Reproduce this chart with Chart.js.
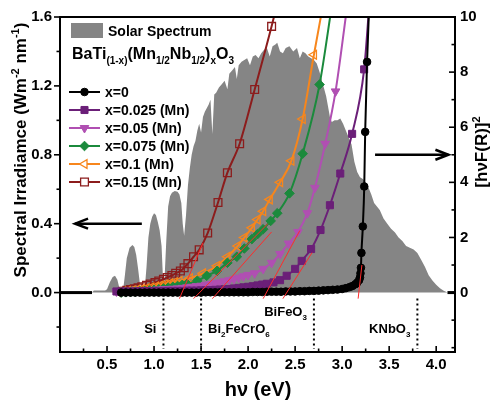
<!DOCTYPE html>
<html>
<head>
<meta charset="utf-8">
<script src="https://cdn.jsdelivr.net/npm/chart.js@4.4.1/dist/chart.umd.min.js"></script>
<style>
  html, body { margin: 0; padding: 0; background: #ffffff; }
  #wrap { width: 492px; height: 402px; }
</style>
</head>
<body>
<div id="wrap"><canvas id="chart" width="492" height="402"></canvas></div>
<script>
const FONT = "'Liberation Sans', Arial, Helvetica, sans-serif";

// ---- Axis ticks ----
const xTickValues = [0.5, 1.0, 1.5, 2.0, 2.5, 3.0, 3.5, 4.0];
const xMinorTicks = [0.25, 0.75, 1.25, 1.75, 2.25, 2.75, 3.25, 3.75];
const leftTickValues = [0.0, 0.4, 0.8, 1.2, 1.6];
const leftMinorTicks = [-0.2, 0.2, 0.6, 1.0, 1.4];
const rightTickValues = [0, 2, 4, 6, 8, 10];
const rightMinorTicks = [-2, -1, 1, 3, 5, 7, 9];

// ---- AM1.5 solar spectrum on the photon-energy axis (W m^-2 nm^-1) ----
const spectrumEnergy = [
  0.00, 0.34, 0.36, 0.48, 0.50, 0.53, 0.56, 0.585, 0.61, 0.63,
  0.645, 0.67, 0.69, 0.71, 0.74, 0.77, 0.79, 0.81, 0.83, 0.85,
  0.87, 0.90, 0.92, 0.94, 0.96, 0.98, 1.00, 1.02, 1.04, 1.06,
  1.08, 1.095, 1.11, 1.13, 1.15, 1.17, 1.19, 1.22, 1.25, 1.27,
  1.29, 1.305, 1.32, 1.34, 1.36, 1.38, 1.40, 1.42, 1.44, 1.46,
  1.48, 1.50, 1.52, 1.54, 1.56, 1.58, 1.60, 1.62, 1.64, 1.66,
  1.69, 1.72, 1.75, 1.78, 1.80, 1.83, 1.86, 1.88, 1.90, 1.93,
  1.96, 1.99, 2.02, 2.05, 2.08, 2.11, 2.14, 2.17, 2.20, 2.23,
  2.26, 2.29, 2.31, 2.34, 2.37, 2.40, 2.44, 2.48, 2.52, 2.55,
  2.58, 2.61, 2.64, 2.67, 2.70, 2.73, 2.76, 2.79, 2.81, 2.83,
  2.85, 2.87, 2.89, 2.92, 2.95, 2.98, 3.01, 3.04, 3.07, 3.10,
  3.13, 3.16, 3.19, 3.22, 3.25, 3.28, 3.31, 3.34, 3.37, 3.40,
  3.44, 3.48, 3.52, 3.56, 3.60, 3.64, 3.68, 3.72, 3.76, 3.80,
  3.84, 3.88, 3.92, 3.96, 4.00, 4.04, 4.08, 4.12, 4.20
];
const spectrumIrradiance = [
  0, 0, 0.012, 0.012, 0.02, 0.06, 0.09, 0.098, 0.075, 0.03,
  0.008, 0.01, 0.10, 0.20, 0.26, 0.276, 0.265, 0.22, 0.14, 0.05,
  0.01, 0.015, 0.15, 0.32, 0.40, 0.44, 0.46, 0.45, 0.41, 0.36,
  0.27, 0.08, 0.06, 0.30, 0.50, 0.56, 0.58, 0.59, 0.585, 0.57,
  0.52, 0.40, 0.33, 0.45, 0.62, 0.72, 0.80, 0.85, 0.88, 0.94,
  0.98, 0.93, 1.02, 1.05, 1.07, 1.09, 1.12, 0.92, 1.15, 1.16,
  1.19, 1.21, 1.23, 1.18, 1.27, 1.29, 1.31, 1.24, 1.32, 1.34,
  1.35, 1.36, 1.32, 1.37, 1.38, 1.36, 1.39, 1.41, 1.42, 1.37,
  1.43, 1.44, 1.45, 1.40, 1.39, 1.42, 1.43, 1.40, 1.42, 1.36,
  1.40, 1.39, 1.37, 1.36, 1.35, 1.33, 1.28, 1.22, 1.18, 1.14,
  1.08, 1.02, 0.99, 1.00, 1.00, 1.01, 0.98, 0.94, 0.90, 0.86,
  0.76, 0.70, 0.67, 0.66, 0.64, 0.61, 0.57, 0.52, 0.50, 0.48,
  0.43, 0.40, 0.37, 0.35, 0.32, 0.30, 0.27, 0.26, 0.25, 0.23,
  0.19, 0.15, 0.10, 0.07, 0.045, 0.025, 0.01, 0, 0
];

// ---- [hvF(R)]^2 Tauc curves ----
const energy_x0 = [
  0.65, 0.70, 0.75, 0.80, 0.85, 0.90, 0.95, 1.00, 1.05, 1.10,
  1.15, 1.20, 1.25, 1.30, 1.35, 1.40, 1.45, 1.50, 1.55, 1.60,
  1.65, 1.70, 1.75, 1.80, 1.85, 1.90, 1.95, 2.00, 2.05, 2.10,
  2.15, 2.20, 2.25, 2.30, 2.35, 2.40, 2.45, 2.50, 2.55, 2.60,
  2.65, 2.70, 2.75, 2.80, 2.85, 2.90, 2.95, 3.00, 3.04, 3.08,
  3.11, 3.14, 3.16, 3.18, 3.19, 3.195, 3.20, 3.205, 3.22, 3.235,
  3.245, 3.265, 3.29
];
const tauc_x0 = [
  0, 0, 0, 0, 0, 0, 0, 0, 0, 0,
  0, 0, 0, 0, 0, 0, 0, 0, 0.01, 0.01,
  0.01, 0.01, 0.01, 0.01, 0.01, 0.01, 0.01, 0.01, 0.02, 0.02,
  0.02, 0.03, 0.03, 0.03, 0.03, 0.04, 0.04, 0.04, 0.05, 0.05,
  0.06, 0.06, 0.07, 0.08, 0.09, 0.10, 0.11, 0.13, 0.16, 0.20,
  0.24, 0.30, 0.36, 0.45, 0.55, 0.70, 0.90, 1.44, 2.40, 3.85,
  5.83, 8.37, 10.6
];

const energy_x025 = [
  0.60, 0.65, 0.70, 0.75, 0.80, 0.85, 0.90, 0.95, 1.00, 1.05,
  1.10, 1.15, 1.20, 1.25, 1.30, 1.35, 1.40, 1.45, 1.50, 1.55,
  1.60, 1.65, 1.70, 1.75, 1.80, 1.85, 1.90, 1.95, 2.00, 2.05,
  2.10, 2.15, 2.20, 2.27, 2.34, 2.41, 2.50, 2.57, 2.67, 2.77,
  2.87, 2.98, 3.106, 3.234, 3.29
];
const tauc_x025 = [
  0.04, 0.04, 0.04, 0.04, 0.04, 0.05, 0.05, 0.05, 0.05, 0.05,
  0.05, 0.06, 0.06, 0.06, 0.06, 0.07, 0.07, 0.07, 0.08, 0.08,
  0.09, 0.10, 0.11, 0.12, 0.13, 0.15, 0.17, 0.19, 0.21, 0.23,
  0.26, 0.29, 0.32, 0.37, 0.45, 0.61, 0.86, 1.15, 1.58, 2.27,
  3.17, 4.32, 5.76, 8.10, 10.5
];

const energy_x05 = [
  0.60, 0.65, 0.70, 0.75, 0.80, 0.85, 0.90, 0.95, 1.00, 1.05,
  1.10, 1.15, 1.20, 1.25, 1.30, 1.35, 1.40, 1.45, 1.50, 1.55,
  1.60, 1.65, 1.70, 1.75, 1.80, 1.85, 1.90, 1.95, 2.00, 2.07,
  2.16, 2.25, 2.34, 2.43, 2.53, 2.63, 2.71, 2.82, 2.93, 3.05
];
const tauc_x05 = [
  0.04, 0.04, 0.05, 0.05, 0.06, 0.07, 0.08, 0.09, 0.10, 0.11,
  0.12, 0.13, 0.14, 0.15, 0.17, 0.19, 0.21, 0.23, 0.25, 0.28,
  0.31, 0.34, 0.37, 0.41, 0.45, 0.49, 0.54, 0.59, 0.64, 0.70,
  0.86, 1.08, 1.40, 1.78, 2.20, 2.88, 3.80, 5.40, 7.30, 10.3
];

const energy_x075 = [
  0.65, 0.70, 0.75, 0.80, 0.85, 0.90, 0.95, 1.00, 1.05, 1.10,
  1.15, 1.20, 1.25, 1.30, 1.35, 1.46, 1.56, 1.67, 1.78, 1.88,
  1.96, 2.04, 2.10, 2.16, 2.24, 2.31, 2.44, 2.58, 2.76, 2.89
];
const tauc_x075 = [
  0.00, 0.01, 0.02, 0.03, 0.05, 0.06, 0.08, 0.10, 0.12, 0.15,
  0.18, 0.21, 0.24, 0.28, 0.32, 0.43, 0.61, 0.79, 1.08, 1.30,
  1.60, 1.94, 2.12, 2.30, 2.60, 2.88, 3.60, 5.04, 7.55, 10.4
];

const energy_x1 = [
  0.62, 0.67, 0.72, 0.77, 0.82, 0.87, 0.92, 0.97, 1.02, 1.07,
  1.12, 1.17, 1.22, 1.27, 1.38, 1.52, 1.67, 1.78, 1.89, 1.96,
  2.04, 2.10, 2.16, 2.23, 2.34, 2.46, 2.58, 2.70, 2.80
];
const tauc_x1 = [
  0.02, 0.04, 0.06, 0.08, 0.10, 0.13, 0.16, 0.19, 0.22, 0.26,
  0.30, 0.34, 0.38, 0.42, 0.52, 0.70, 0.97, 1.30, 1.69, 2.00,
  2.35, 2.65, 2.95, 3.38, 4.00, 4.78, 6.30, 8.63, 10.5
];

const energy_x15 = [
  0.67, 0.71, 0.75, 0.79, 0.83, 0.87, 0.92, 0.96, 1.01, 1.05,
  1.10, 1.14, 1.19, 1.23, 1.28, 1.32, 1.36, 1.42, 1.48, 1.57,
  1.68, 1.78, 1.91, 2.07, 2.25, 2.31
];
const tauc_x15 = [
  0.05, 0.08, 0.11, 0.14, 0.17, 0.21, 0.26, 0.31, 0.36, 0.42,
  0.48, 0.55, 0.62, 0.70, 0.78, 0.90, 1.05, 1.30, 1.55, 2.16,
  3.27, 4.35, 5.40, 7.37, 9.66, 10.5
];

// Linear extrapolations of the absorption edges
const tangentEnergy = [[1.27, 1.52], [1.42, 2.21], [1.62, 2.25], [2.16, 2.55], [2.37, 2.68], [3.17, 3.21]];
const tangentValue  = [[-0.22, 1.8], [-0.22, 2.5], [-0.22, 2.2], [-0.22, 2.25], [-0.22, 1.45], [-0.22, 1.0]];

// Band gaps of reference absorbers
const gapEnergies = [1.1, 1.5, 2.7, 3.8];

const seriesLabels = ['x=0', 'x=0.025 (Mn)', 'x=0.05 (Mn)', 'x=0.075 (Mn)', 'x=0.1 (Mn)', 'x=0.15 (Mn)'];
const seriesEnergy = [energy_x0, energy_x025, energy_x05, energy_x075, energy_x1, energy_x15];
const seriesValues = [tauc_x0, tauc_x025, tauc_x05, tauc_x075, tauc_x1, tauc_x15];

// Styling
const seriesStyle = [
  { color: '#000000', point: 'circle',   rotation: 0,   radius: 3.8, hollow: false },
  { color: '#6b1f78', point: 'rect',     rotation: 0,   radius: 5.0, hollow: false },
  { color: '#b04fb2', point: 'triangle', rotation: 180, radius: 5.0, hollow: false },
  { color: '#1b8a3c', point: 'rectRot',  rotation: 0,   radius: 4.8, hollow: false },
  { color: '#f7861c', point: 'triangle', rotation: -90, radius: 5.0, hollow: true },
  { color: '#8c1c1c', point: 'rect',     rotation: 0,   radius: 5.5, hollow: true }
];
const SPECTRUM_GREY = '#858585';
const TANGENT_RED = '#ff2b2b';

const leftMax = 1.6, leftMin = -0.345;
const rightMax = 10, rightMin = leftMin * rightMax / leftMax;

function toPoints(xs, ys) { return xs.map((x, i) => ({ x: x, y: ys[i] })); }

const datasets = [];
datasets.push({
  label: 'Solar Spectrum',
  data: toPoints(spectrumEnergy, spectrumIrradiance),
  yAxisID: 'yL',
  fill: 'origin',
  backgroundColor: SPECTRUM_GREY,
  borderWidth: 3,
  borderColor: 'rgba(0,0,0,0)',
  segment: {
    borderColor: c => (c.p0.parsed.y === 0 && c.p1.parsed.y === 0) ? '#000000' : 'rgba(0,0,0,0)'
  },
  pointRadius: 0,
  tension: 0,
  order: 20
});
seriesLabels.forEach((lab, i) => {
  const st = seriesStyle[i];
  datasets.push({
    label: lab,
    data: toPoints(seriesEnergy[i], seriesValues[i]),
    yAxisID: 'yR',
    borderColor: st.color,
    borderWidth: 2,
    backgroundColor: st.color,
    pointStyle: st.point,
    pointRotation: st.rotation,
    pointRadius: st.radius,
    pointBorderColor: st.color,
    pointBackgroundColor: st.hollow ? 'rgba(0,0,0,0)' : st.color,
    pointBorderWidth: st.hollow ? 1.3 : 1,
    cubicInterpolationMode: 'monotone',
    fill: false,
    clip: 1,
    order: 2 + i
  });
});
tangentEnergy.forEach((xs, i) => {
  datasets.push({
    label: 'edge ' + i,
    data: toPoints(xs, tangentValue[i]),
    yAxisID: 'yR',
    borderColor: TANGENT_RED,
    borderWidth: 1,
    pointRadius: 0,
    fill: false,
    order: 0
  });
});

function drawRich(ctx, parts, x, y, size, align) {
  const small = Math.round(size * 0.62);
  let w = 0;
  for (const [t, k] of parts) {
    ctx.font = 'bold ' + (k ? small : size) + 'px ' + FONT;
    w += ctx.measureText(t).width;
  }
  let cx = align === 'right' ? x - w : (align === 'center' ? x - w / 2 : x);
  ctx.textAlign = 'left';
  ctx.textBaseline = 'alphabetic';
  for (const [t, k] of parts) {
    ctx.font = 'bold ' + (k ? small : size) + 'px ' + FONT;
    const dy = k === 1 ? size * 0.3 : (k === 2 ? -size * 0.42 : 0);
    ctx.fillText(t, cx, y + dy);
    cx += ctx.measureText(t).width;
  }
}

function arrow(ctx, x1, y, x2) {
  const dir = x2 > x1 ? 1 : -1;
  ctx.beginPath();
  ctx.moveTo(x1, y);
  ctx.lineTo(x2, y);
  ctx.stroke();
  ctx.beginPath();
  ctx.moveTo(x2 - dir * 13, y - 5);
  ctx.lineTo(x2, y);
  ctx.lineTo(x2 - dir * 13, y + 5);
  ctx.stroke();
}

const materialLabels = [
  { parts: [['Si', 0]], side: 'right', raise: 19 },
  { parts: [['Bi', 0], ['2', 1], ['FeCrO', 0], ['6', 1]], side: 'left', raise: 19 },
  { parts: [['BiFeO', 0], ['3', 1]], side: 'right', raise: 36 },
  { parts: [['KNbO', 0], ['3', 1]], side: 'right', raise: 19 }
];

const decor = {
  id: 'decor',
  afterDatasetsDraw(chart) {
    const ctx = chart.ctx;
    const a = chart.chartArea;
    const x = chart.scales.x, yL = chart.scales.yL, yR = chart.scales.yR;
    ctx.save();
    ctx.strokeStyle = '#000';
    ctx.fillStyle = '#000';

    // frame
    ctx.lineWidth = 2;
    ctx.strokeRect(a.left, a.top, a.right - a.left, a.bottom - a.top);

    // tick marks
    ctx.lineWidth = 1.6;
    const seg = (x1, y1, x2, y2) => { ctx.beginPath(); ctx.moveTo(x1, y1); ctx.lineTo(x2, y2); ctx.stroke(); };
    xTickValues.forEach(v => { const p = x.getPixelForValue(v); seg(p, a.bottom, p, a.bottom - 6); });
    xMinorTicks.forEach(v => { const p = x.getPixelForValue(v); seg(p, a.bottom, p, a.bottom - 3.5); });
    leftTickValues.forEach(v => { const p = yL.getPixelForValue(v); seg(a.left - 6, p, a.left, p); });
    leftMinorTicks.forEach(v => { const p = yL.getPixelForValue(v); seg(a.left - 3.5, p, a.left, p); });
    rightTickValues.forEach(v => { const p = yR.getPixelForValue(v); seg(a.right, p, a.right - 6, p); });
    rightMinorTicks.forEach(v => { const p = yR.getPixelForValue(v); seg(a.right, p, a.right - 3.5, p); });

    // band-gap markers
    ctx.lineWidth = 2;
    ctx.setLineDash([2, 3]);
    gapEnergies.forEach(g => {
      const p = x.getPixelForValue(g);
      seg(p, yL.getPixelForValue(-0.035), p, a.bottom - 3);
    });
    ctx.setLineDash([]);
    gapEnergies.forEach((g, i) => {
      const p = x.getPixelForValue(g);
      const m = materialLabels[i];
      const tx = m.side === 'right' ? p - 7 : p + 7;
      drawRich(ctx, m.parts, tx, a.bottom - m.raise, 13, m.side === 'right' ? 'right' : 'left');
    });

    // axis pointers
    ctx.lineWidth = 2.5;
    arrow(ctx, x.getPixelForValue(0.87), yL.getPixelForValue(0.4), x.getPixelForValue(0.16));
    arrow(ctx, x.getPixelForValue(3.35), yR.getPixelForValue(5), x.getPixelForValue(4.13));

    // legend
    ctx.fillStyle = SPECTRUM_GREY;
    ctx.fillRect(a.left + 11, a.top + 6, 32, 15);
    ctx.fillStyle = '#000';
    drawRich(ctx, [['Solar Spectrum', 0]], a.left + 48, a.top + 19, 14, 'left');
    drawRich(ctx, [['BaTi', 0], ['(1-x)', 1], ['(Mn', 0], ['1/2', 1], ['Nb', 0], ['1/2', 1], [')', 0], ['x', 1], ['O', 0], ['3', 1]],
             a.left + 12, a.top + 42, 16, 'left');
    seriesLabels.forEach((lab, i) => {
      const st = seriesStyle[i];
      const cy = a.top + 75 + i * 18;
      ctx.strokeStyle = st.color;
      ctx.lineWidth = 2;
      seg(a.left + 9, cy, a.left + 40, cy);
      ctx.fillStyle = st.hollow ? '#ffffff' : st.color;
      ctx.lineWidth = st.hollow ? 1.3 : 1;
      Chart.helpers.drawPoint(ctx, { pointStyle: st.point, rotation: st.rotation, radius: st.radius, borderWidth: ctx.lineWidth }, a.left + 24.5, cy);
      ctx.fillStyle = '#000';
      drawRich(ctx, [[lab, 0]], a.left + 45, cy + 5, 14, 'left');
    });

    // axis titles
    ctx.fillStyle = '#000';
    ctx.save();
    ctx.translate(26, 150);
    ctx.rotate(-Math.PI / 2);
    drawRich(ctx, [['Spectral Irradiamce (Wm', 0], ['-2', 2], [' nm', 0], ['-1', 2], [')', 0]], 0, 0, 17, 'center');
    ctx.restore();
    ctx.save();
    ctx.translate(487, 152);
    ctx.rotate(-Math.PI / 2);
    drawRich(ctx, [['[h\u03BDF(R)]', 0], ['2', 2]], 0, 0, 17, 'center');
    ctx.restore();
    drawRich(ctx, [['h\u03BD (eV)', 0]], 258, 396, 20, 'center');

    ctx.restore();
  }
};

const tickFont = { family: FONT, size: 15, weight: 'bold' };

new Chart(document.getElementById('chart'), {
  type: 'line',
  data: { datasets: datasets },
  options: {
    responsive: false,
    animation: false,
    devicePixelRatio: 1,
    layout: { padding: { top: 14, left: 0, right: 0, bottom: 0 } },
    plugins: { legend: { display: false }, tooltip: { enabled: false } },
    scales: {
      x: {
        type: 'linear', min: 0, max: 4.2,
        grid: { display: false, drawTicks: false },
        border: { display: false },
        afterBuildTicks: s => { s.ticks = xTickValues.map(v => ({ value: v })); },
        afterFit: s => { s.height = 50; },
        ticks: { font: tickFont, color: '#000', padding: 4, maxRotation: 0, autoSkip: false,
                 callback: v => Number(v).toFixed(1) }
      },
      yL: {
        type: 'linear', position: 'left', min: leftMin, max: leftMax,
        grid: { display: false, drawTicks: false },
        border: { display: false },
        afterBuildTicks: s => { s.ticks = leftTickValues.map(v => ({ value: v })); },
        afterFit: s => { s.width = 60; },
        ticks: { font: tickFont, color: '#000', padding: 8, callback: v => Number(v).toFixed(1) }
      },
      yR: {
        type: 'linear', position: 'right', min: rightMin, max: rightMax,
        grid: { display: false, drawTicks: false },
        border: { display: false },
        afterBuildTicks: s => { s.ticks = rightTickValues.map(v => ({ value: v })); },
        afterFit: s => { s.width = 37; },
        ticks: { font: tickFont, color: '#000', padding: 5, callback: v => String(v) }
      }
    }
  },
  plugins: [decor]
});
</script>
</body>
</html>
